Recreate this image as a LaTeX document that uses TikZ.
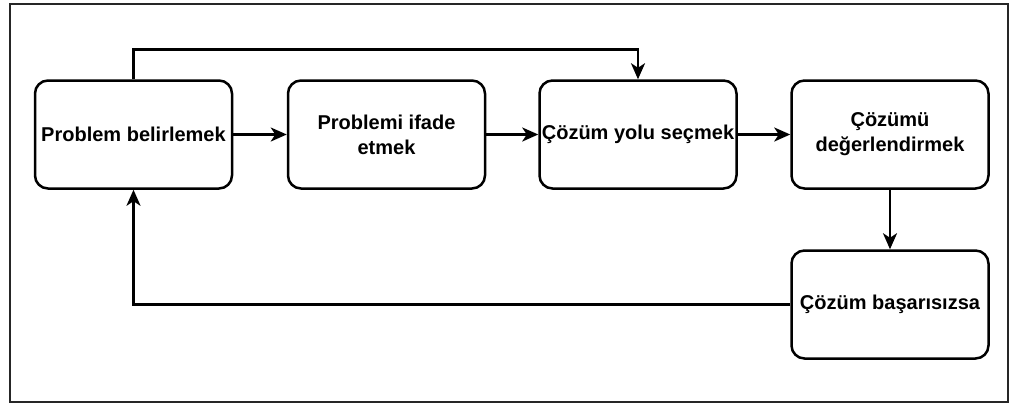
\documentclass[tikz,border=0pt]{standalone}
\usepackage{fontspec}
\setmainfont{Liberation Sans}
\usetikzlibrary{arrows.meta}
\tikzset{
  procbox/.style={draw, line width=2.5pt, rounded corners=13pt, minimum width=197pt, minimum height=108pt, align=center, font=\fontsize{20}{25}\selectfont\bfseries, inner sep=0pt},
  conn/.style={line width=2.5pt, -{Stealth[length=16pt,width=14pt,inset=4.5pt]}},
}
\begin{document}
\begin{tikzpicture}[x=1pt,y=-1pt]
\useasboundingbox (0,0) rectangle (1018,405);
\draw[line width=2.5pt, black!85] (10,4) rectangle (1008,402);
\node[procbox] (b1) at (133.5,134.5) {Problem belirlemek};
\node[procbox] (b2) at (386.5,134.5) {Problemi ifade\\etmek};
\node[procbox] (b3) at (638,134.5) {Çözüm yolu seçmek};
\node[procbox] (b4) at (890,134.5) {Çözümü\\değerlendirmek};
\node[procbox] (b5) at (890,304.5) {Çözüm başarısızsa};
\draw[conn] (b1) -- (b2);
\draw[conn] (b2) -- (b3);
\draw[conn] (b3) -- (b4);
\draw[conn] (b4) -- (b5);
\draw[conn] (b1.north) -- ++(0,-30) -| (b3.north);
\draw[conn] (b5.west) -| (b1.south);
\end{tikzpicture}
\end{document}
